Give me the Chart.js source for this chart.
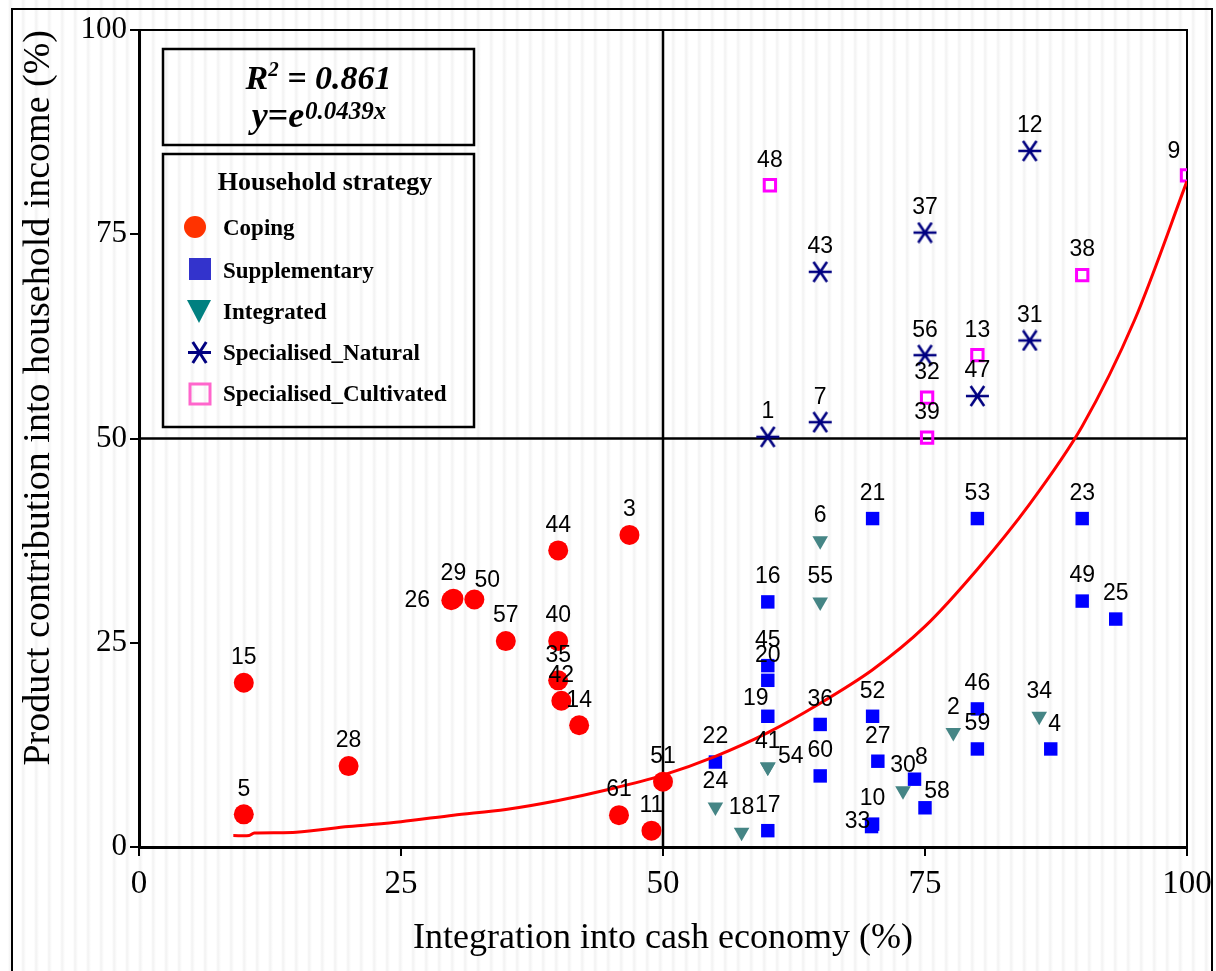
<!DOCTYPE html>
<html>
<head>
<meta charset="utf-8">
<script src="https://cdn.jsdelivr.net/npm/chart.js@4.4.0/dist/chart.umd.min.js"></script>
<style>
  html, body { margin: 0; padding: 0; }
  body {
    width: 1216px;
    height: 971px;
    overflow: hidden;
    position: relative;
    background: repeating-linear-gradient(90deg, #ffffff 0px, #ffffff 8px, #f2f2f2 10px, #ffffff 13px);
  }
  #frame {
    position: absolute;
    left: 11px;
    top: 8px;
    width: 1198px;
    height: 990px;
    border: 2px solid #000;
    pointer-events: none;
  }
  canvas { position: absolute; left: 0; top: 0; }
</style>
</head>
<body>
<div id="frame"></div>
<canvas id="chart" width="1216" height="971"></canvas>
<script>
// household strategies
const strategyNames = ["Coping", "Supplementary", "Integrated", "Specialised_Natural", "Specialised_Cultivated"];

const copingLabels = ["15", "5", "28", "26", "29", "50", "57", "44", "40", "35", "42", "14", "3", "61", "11", "51"];
const copingX = [10, 10, 20, 29.8, 30, 32, 35, 40, 40, 40, 40.3, 42, 46.8, 45.8, 48.9, 50];
const copingY = [20.1, 4, 9.9, 30.2, 30.4, 30.3, 25.2, 36.3, 25.2, 20.4, 17.9, 14.9, 38.2, 3.9, 2, 8];

const supplLabels = ["16", "45", "20", "19", "17", "22", "36", "60", "52", "27", "10", "33", "8", "58", "46", "59", "4", "21", "53", "23", "49", "25"];
const supplX = [60, 60, 60, 60, 60, 55, 65, 65, 70, 70.5, 70, 69.9, 74, 75, 80, 80, 87, 70, 80, 90, 90, 93.2];
const supplY = [30, 22.2, 20.4, 16, 2, 10.4, 15, 8.7, 16, 10.5, 2.8, 2.5, 8.3, 4.8, 16.9, 12, 12, 40.2, 40.2, 40.2, 30.1, 27.9];

const integLabels = ["6", "55", "41", "54", "24", "18", "30", "2", "34"];
const integX = [65, 65, 60, 60, 55, 57.5, 72.9, 77.7, 85.9];
const integY = [37.5, 30, 9.8, 9.8, 4.9, 1.8, 6.9, 14, 16];

const naturalLabels = ["1", "7", "43", "37", "56", "47", "31", "12"];
const naturalX = [60, 65, 65, 75, 75, 80, 85, 85];
const naturalY = [50.2, 52, 70.4, 75.2, 60.2, 55.2, 62, 85.2];

const cultLabels = ["48", "32", "39", "13", "38", "9"];
const cultX = [60.2, 75.2, 75.2, 80, 90, 100];
const cultY = [81, 55, 50.1, 60.2, 70, 82.2];

// fitted curve
const trendX = [9, 10.5, 11, 15, 20, 25, 30, 35, 40, 45, 50, 55, 60, 65, 70, 75, 80, 85, 90, 95, 100];
const trendY = [1.4, 1.4, 1.7, 1.8, 2.5, 3.1, 3.9, 4.6, 5.7, 7.1, 8.8, 11.1, 14, 17.6, 21.7, 27, 34, 42, 51.5, 64.5, 81.5];

const xTicks = [0, 25, 50, 75, 100];
const yTicks = [0, 25, 50, 75, 100];
const splitX = 50;
const splitY = 50;

// label placement tweaks (dx, dy from the point), default is above
const labelOffsets = {
  "26": [-34, 0],
  "50": [13, -19],
  "19": [-12, -18],
  "54": [23, -10],
  "33": [-14, -5],
  "8": [7, -22],
  "58": [12, -16],
  "9": [-13, -24],
  "4": [4, -24]
};

function toPoints(xs, ys) {
  return xs.map((x, i) => ({ x: x, y: ys[i] }));
}

// six armed asterisk (horizontal bar + x)
function makeAsterisk(color, w, h, lw) {
  const c = document.createElement("canvas");
  c.width = w;
  c.height = h;
  const g = c.getContext("2d");
  g.strokeStyle = color;
  g.lineWidth = lw;
  g.lineCap = "butt";
  const cx = w / 2, cy = h / 2;
  const dx = w * 0.27, dy = h / 2 - 1;
  g.beginPath();
  g.moveTo(1, cy); g.lineTo(w - 1, cy);
  g.moveTo(cx - dx, cy - dy); g.lineTo(cx + dx, cy + dy);
  g.moveTo(cx + dx, cy - dy); g.lineTo(cx - dx, cy + dy);
  g.stroke();
  return c;
}

const asteriskPoint = makeAsterisk("#000080", 25, 22, 2.6);
const asteriskLegend = makeAsterisk("#000080", 25, 23, 3);

const quadrantPlugin = {
  id: "quadrants",
  beforeDatasetsDraw(chart) {
    const { ctx, chartArea: a, scales } = chart;
    const qx = scales.x.getPixelForValue(splitX);
    const qy = scales.y.getPixelForValue(splitY);
    ctx.save();
    ctx.strokeStyle = "#000";
    ctx.lineWidth = 2;
    ctx.beginPath();
    ctx.moveTo(a.left, a.top); ctx.lineTo(a.right, a.top); ctx.lineTo(a.right, a.bottom);
    ctx.stroke();
    ctx.lineWidth = 2.5;
    ctx.beginPath();
    ctx.moveTo(qx, a.top); ctx.lineTo(qx, a.bottom);
    ctx.moveTo(a.left, qy); ctx.lineTo(a.right, qy);
    ctx.stroke();
    ctx.restore();
  }
};

const labelPlugin = {
  id: "pointLabels",
  afterDatasetsDraw(chart) {
    const ctx = chart.ctx;
    ctx.save();
    ctx.font = '23px "Liberation Sans"';
    ctx.fillStyle = "#000";
    ctx.textAlign = "center";
    ctx.textBaseline = "middle";
    chart.data.datasets.forEach((ds, i) => {
      if (!ds.pointLabels) return;
      chart.getDatasetMeta(i).data.forEach((pt, j) => {
        const name = ds.pointLabels[j];
        const off = labelOffsets[name] || [0, -25];
        ctx.fillText(name, pt.x + off[0], pt.y + off[1]);
      });
    });
    ctx.restore();
  }
};

// equation box and legend box in the upper left
const legendPlugin = {
  id: "strategyLegend",
  afterDraw(chart) {
    const { ctx, chartArea: a } = chart;
    const left = a.left + 24;
    const w = 311;
    const cx = left + w / 2;
    ctx.save();
    ctx.strokeStyle = "#000";
    ctx.lineWidth = 2.5;
    ctx.strokeRect(left, a.top + 19, w, 96);
    ctx.strokeRect(left, a.top + 124, w, 273);

    // R^2 line
    ctx.fillStyle = "#000";
    ctx.textBaseline = "alphabetic";
    ctx.textAlign = "left";
    const big = 'italic bold 34px "Liberation Serif"';
    const sup = 'italic bold 21px "Liberation Serif"';
    ctx.font = big;
    const wR = ctx.measureText("R").width;
    const wRest = ctx.measureText(" = 0.861").width;
    ctx.font = sup;
    const w2 = ctx.measureText("2").width;
    let x0 = cx - (wR + w2 + wRest) / 2;
    let base = a.top + 59;
    ctx.font = big;
    ctx.fillText("R", x0, base);
    ctx.font = sup;
    ctx.fillText("2", x0 + wR, base - 13);
    ctx.font = big;
    ctx.fillText(" = 0.861", x0 + wR + w2, base);

    // y = e^0.0439x
    const eqBase = 'italic bold 36px "Liberation Serif"';
    const eqSup = 'italic bold 25px "Liberation Serif"';
    ctx.font = eqBase;
    const wY = ctx.measureText("y=e").width;
    ctx.font = eqSup;
    const wE = ctx.measureText("0.0439x").width;
    x0 = cx - (wY + wE) / 2;
    base = a.top + 97;
    ctx.font = eqBase;
    ctx.fillText("y=e", x0, base);
    ctx.font = eqSup;
    ctx.fillText("0.0439x", x0 + wY + 1, base - 8);

    // legend title
    ctx.textAlign = "center";
    ctx.textBaseline = "middle";
    ctx.font = 'bold 26px "Liberation Serif"';
    ctx.fillText("Household strategy", a.left + 186, a.top + 153);

    // legend items
    const mx = a.left + 60;
    const tx = a.left + 84;
    const rows = [a.top + 198, a.top + 241, a.top + 282, a.top + 323, a.top + 364];
    ctx.textAlign = "left";
    ctx.font = 'bold 23px "Liberation Serif"';
    strategyNames.forEach((name, i) => {
      const y = rows[i];
      ctx.fillText(name, tx, y + 1);
      ctx.beginPath();
      if (i === 0) {
        ctx.fillStyle = "#ff3300";
        ctx.arc(mx - 4, y - 1, 11, 0, Math.PI * 2);
        ctx.fill();
      } else if (i === 1) {
        ctx.fillStyle = "#3333cc";
        ctx.fillRect(mx - 10, y - 13, 22, 22);
      } else if (i === 2) {
        ctx.fillStyle = "#008080";
        ctx.moveTo(mx - 12, y - 12);
        ctx.lineTo(mx + 12, y - 12);
        ctx.lineTo(mx, y + 11);
        ctx.closePath();
        ctx.fill();
      } else if (i === 3) {
        ctx.drawImage(asteriskLegend, mx - 12, y - 12);
      } else {
        ctx.strokeStyle = "#ff66cc";
        ctx.lineWidth = 3;
        ctx.strokeRect(mx - 9, y - 10, 20, 20);
      }
      ctx.fillStyle = "#000";
    });
    ctx.restore();
  }
};

const ctx = document.getElementById("chart");

new Chart(ctx, {
  type: "scatter",
  data: {
    datasets: [
      {
        type: "line",
        label: "fit",
        data: toPoints(trendX, trendY),
        borderColor: "#ff0000",
        borderWidth: 3,
        pointRadius: 0,
        tension: 0.3,
        fill: false
      },
      {
        label: strategyNames[0],
        data: toPoints(copingX, copingY),
        pointLabels: copingLabels,
        pointStyle: "circle",
        pointRadius: 10,
        backgroundColor: "#ff0000",
        borderColor: "#ff0000",
        borderWidth: 0
      },
      {
        label: strategyNames[1],
        data: toPoints(supplX, supplY),
        pointLabels: supplLabels,
        pointStyle: "rect",
        pointRadius: 9.5,
        backgroundColor: "#0000ff",
        borderColor: "#0000ff",
        borderWidth: 0
      },
      {
        label: strategyNames[2],
        data: toPoints(integX, integY),
        pointLabels: integLabels,
        pointStyle: "triangle",
        rotation: 180,
        pointRadius: 9,
        backgroundColor: "#458585",
        borderColor: "#458585",
        borderWidth: 0
      },
      {
        label: strategyNames[3],
        data: toPoints(naturalX, naturalY),
        pointLabels: naturalLabels,
        pointStyle: asteriskPoint,
        pointRadius: 12
      },
      {
        label: strategyNames[4],
        data: toPoints(cultX, cultY),
        pointLabels: cultLabels,
        pointStyle: "rect",
        pointRadius: 8,
        backgroundColor: "rgba(0,0,0,0)",
        borderColor: "#ff00ff",
        borderWidth: 3
      }
    ]
  },
  options: {
    responsive: false,
    animation: false,
    devicePixelRatio: 1,
    layout: { padding: { top: 30, right: 29, left: 0, bottom: 0 } },
    plugins: {
      legend: { display: false },
      tooltip: { enabled: false }
    },
    scales: {
      x: {
        type: "linear",
        min: 0,
        max: 100,
        afterBuildTicks: (scale) => { scale.ticks = xTicks.map(v => ({ value: v })); },
        afterFit: (scale) => {
          scale.height = 124;
          scale.paddingLeft = 0;
          scale.paddingRight = 0;
        },
        border: { display: true, color: "#000", width: 3 },
        grid: { drawOnChartArea: false, drawTicks: true, tickLength: 9, tickColor: "#000", lineWidth: 2 },
        ticks: {
          color: "#000",
          padding: 9,
          font: { family: "Liberation Serif", size: 33 }
        },
        title: {
          display: true,
          text: "Integration into cash economy (%)",
          color: "#000",
          font: { family: "Liberation Serif", size: 36 },
          padding: { top: 0, bottom: 11 }
        }
      },
      y: {
        type: "linear",
        min: 0,
        max: 100,
        afterBuildTicks: (scale) => { scale.ticks = yTicks.map(v => ({ value: v })); },
        afterFit: (scale) => { scale.width = 139; },
        border: { display: true, color: "#000", width: 3 },
        grid: { drawOnChartArea: false, drawTicks: true, tickLength: 9, tickColor: "#000", lineWidth: 2 },
        ticks: {
          color: "#000",
          padding: 3,
          font: { family: "Liberation Serif", size: 31 }
        },
        title: {
          display: true,
          text: "Product contribution into household income (%)",
          color: "#000",
          align: "end",
          font: { family: "Liberation Serif", size: 38 },
          padding: { top: 16, bottom: 0 }
        }
      }
    }
  },
  plugins: [quadrantPlugin, labelPlugin, legendPlugin]
});
</script>
</body>
</html>
